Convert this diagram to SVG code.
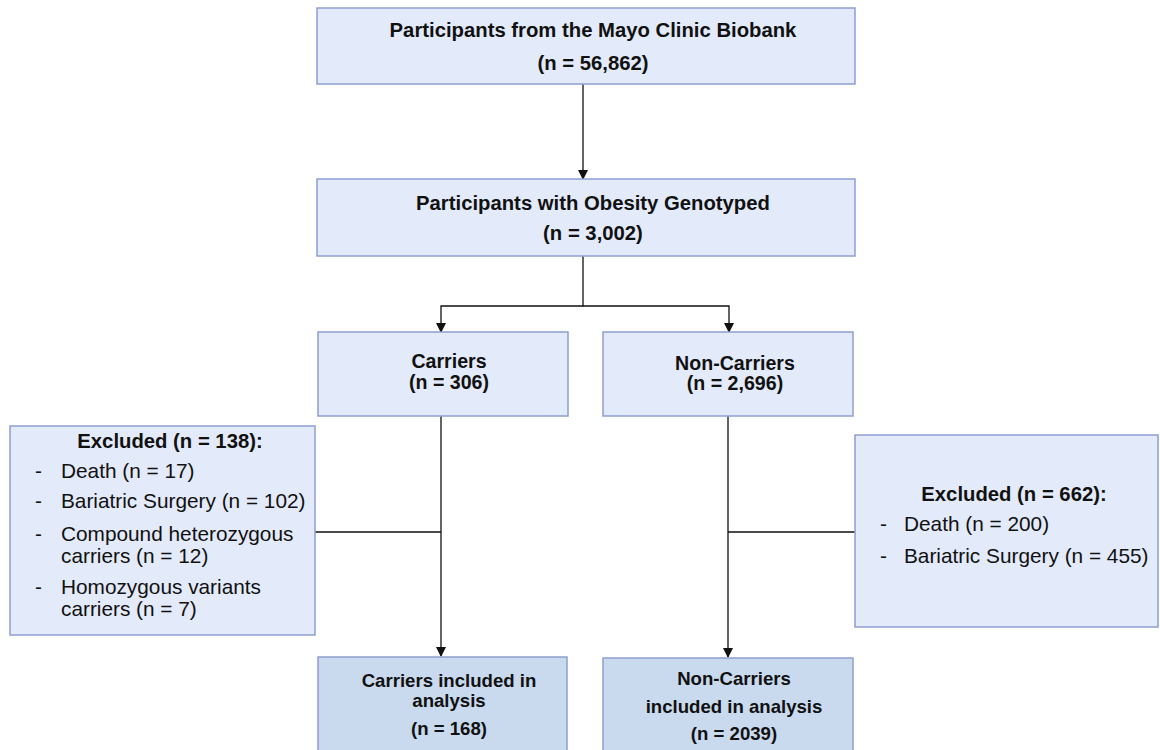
<svg xmlns="http://www.w3.org/2000/svg" width="1160" height="750" viewBox="0 0 1160 750">
<style>
.box{fill:#e3eafa;stroke:#8e9fcf;stroke-width:1.5}
.box2{fill:#c9daee;stroke:#8e9fcf;stroke-width:1.5}
.b{font-family:"Liberation Sans",Arial,sans-serif;font-weight:bold;font-size:20.3px;fill:#111;text-anchor:middle}
.s{font-size:18.6px}
.m{font-size:19.6px}
.n{font-family:"Liberation Sans",Arial,sans-serif;font-size:20.8px;fill:#111}
.ln{fill:none;stroke:#111;stroke-width:1.3}
</style>
<defs>
<marker id="ah" markerWidth="10" markerHeight="10" refX="9" refY="5" orient="auto" markerUnits="userSpaceOnUse">
<path d="M0,0 L10,5 L0,10 Z" fill="#111"/>
</marker>
</defs>
<rect width="1160" height="750" fill="#fff"/>
<g id="connectors">
<path class="ln" d="M583,84 V179" marker-end="url(#ah)"/>
<path class="ln" d="M583,256 V306 H441 V332" marker-end="url(#ah)"/>
<path class="ln" d="M583,306 H729 V332" marker-end="url(#ah)"/>
<path class="ln" d="M441,416 V656" marker-end="url(#ah)"/>
<path class="ln" d="M315,532 H441"/>
<path class="ln" d="M728,416 V657" marker-end="url(#ah)"/>
<path class="ln" d="M728,532 H855"/>
</g>
<g id="biobank">
<rect class="box" x="317" y="8" width="538" height="76"/>
<text class="b" x="593" y="37">Participants from the Mayo Clinic Biobank</text>
<text class="b" x="593" y="70">(n = 56,862)</text>
</g>
<g id="genotyped">
<rect class="box" x="317" y="179" width="538" height="77"/>
<text class="b" x="593" y="210">Participants with Obesity Genotyped</text>
<text class="b" x="593" y="240">(n = 3,002)</text>
</g>
<g id="carriers">
<rect class="box" x="318" y="332" width="250" height="84"/>
<text class="b m" x="449" y="368">Carriers</text>
<text class="b m" x="449" y="389">(n = 306)</text>
</g>
<g id="noncarriers">
<rect class="box" x="603" y="332" width="250" height="84"/>
<text class="b m" x="735" y="370">Non-Carriers</text>
<text class="b m" x="735" y="390">(n = 2,696)</text>
</g>
<g id="excluded-left">
<rect class="box" x="10" y="426" width="305" height="209"/>
<text class="b" x="170" y="448">Excluded (n = 138):</text>
<text class="n" x="35" y="478">-</text><text class="n" x="61" y="478">Death (n = 17)</text>
<text class="n" x="35" y="508">-</text><text class="n" x="61" y="508">Bariatric Surgery (n = 102)</text>
<text class="n" x="35" y="541">-</text><text class="n" x="61" y="541">Compound heterozygous</text>
<text class="n" x="61" y="563">carriers (n = 12)</text>
<text class="n" x="35" y="594">-</text><text class="n" x="61" y="594">Homozygous variants</text>
<text class="n" x="61" y="616">carriers (n = 7)</text>
</g>
<g id="excluded-right">
<rect class="box" x="855" y="435" width="303" height="192"/>
<text class="b" x="1014" y="501">Excluded (n = 662):</text>
<text class="n" x="880" y="531">-</text><text class="n" x="904" y="531">Death (n = 200)</text>
<text class="n" x="880" y="563">-</text><text class="n" x="904" y="563">Bariatric Surgery (n = 455)</text>
</g>
<g id="carriers-included">
<rect class="box2" x="318" y="657" width="249" height="95"/>
<text class="b s" x="449" y="687">Carriers included in</text>
<text class="b s" x="449" y="707">analysis</text>
<text class="b s" x="449" y="735">(n = 168)</text>
</g>
<g id="noncarriers-included">
<rect class="box2" x="603" y="658" width="250" height="94"/>
<text class="b s" x="734" y="685">Non-Carriers</text>
<text class="b s" x="734" y="713">included in analysis</text>
<text class="b s" x="734" y="740">(n = 2039)</text>
</g>
</svg>
